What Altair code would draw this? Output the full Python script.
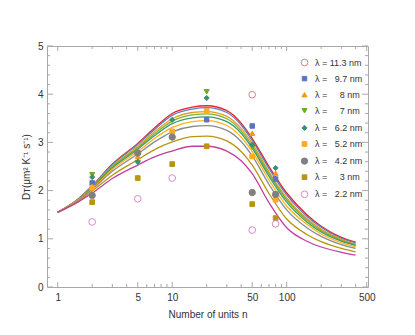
import altair as alt
import pandas as pd

labels = ["λ = 11.3 nm", "λ = \u20079.7 nm", "λ = \u2007\u20078 nm", "λ = \u2007\u20077 nm",
          "λ = \u20076.2 nm", "λ = \u20075.2 nm", "λ = \u20074.2 nm", "λ = \u2007\u20073 nm",
          "λ = \u20072.2 nm"]
curve_keys = ["11.3", "9.7", "8", "7", "6.2", "5.2", "4.2", "3", "2.2"]

n_grid = [1, 1.5, 2, 3, 5, 7, 10, 15, 20, 30, 40, 50, 70, 100, 150, 200, 300, 400]
c_113 = [1.55, 1.82, 2.10, 2.55, 2.98, 3.30, 3.60, 3.73, 3.76, 3.66, 3.40, 3.08, 2.50, 1.95, 1.50, 1.26, 1.03, 0.93]
c_97 = [1.55, 1.82, 2.09, 2.54, 2.96, 3.27, 3.56, 3.69, 3.72, 3.62, 3.36, 3.04, 2.46, 1.91, 1.47, 1.24, 1.01, 0.92]
c_8 = [1.55, 1.81, 2.08, 2.51, 2.92, 3.22, 3.49, 3.62, 3.64, 3.54, 3.29, 2.98, 2.39, 1.85, 1.42, 1.20, 0.99, 0.89]
c_7 = [1.55, 1.81, 2.07, 2.49, 2.89, 3.18, 3.44, 3.57, 3.59, 3.49, 3.24, 2.93, 2.35, 1.81, 1.39, 1.17, 0.97, 0.88]
c_62 = [1.55, 1.80, 2.06, 2.47, 2.86, 3.14, 3.39, 3.51, 3.53, 3.43, 3.19, 2.88, 2.30, 1.76, 1.35, 1.14, 0.95, 0.86]
c_52 = [1.55, 1.80, 2.04, 2.44, 2.81, 3.08, 3.31, 3.43, 3.45, 3.35, 3.11, 2.81, 2.22, 1.68, 1.30, 1.10, 0.92, 0.83]
c_42 = [1.55, 1.79, 2.03, 2.40, 2.76, 3.01, 3.22, 3.33, 3.35, 3.25, 3.02, 2.72, 2.13, 1.60, 1.23, 1.05, 0.88, 0.80]
c_3 = [1.55, 1.77, 1.99, 2.32, 2.64, 2.85, 3.01, 3.12, 3.13, 3.03, 2.81, 2.53, 1.94, 1.41, 1.09, 0.94, 0.80, 0.73]
c_22 = [1.55, 1.76, 1.95, 2.25, 2.53, 2.70, 2.82, 2.92, 2.92, 2.82, 2.62, 2.35, 1.75, 1.23, 0.95, 0.83, 0.72, 0.66]
curves = [c_113, c_97, c_8, c_7, c_62, c_52, c_42, c_3, c_22]

pt_series = [0, 1, 1, 1, 1, 2, 2, 2, 2, 2, 3, 3, 3, 3, 4, 4, 4, 4, 4, 4,
             5, 5, 5, 5, 5, 6, 6, 6, 6, 6, 7, 7, 7, 7, 7, 7, 8, 8, 8, 8, 8]
pt_n = [50, 2, 20, 50, 80, 2, 5, 10, 50, 80, 2, 5, 20, 50, 2, 5, 10, 20, 50, 80,
        2, 10, 20, 50, 80, 2, 5, 10, 50, 80, 2, 5, 10, 20, 50, 80, 2, 5, 10, 50, 80]
pt_D = [3.99, 2.16, 3.47, 3.34, 2.24, 2.09, 2.71, 3.23, 3.19, 2.36, 2.33, 2.58, 4.05, 2.90,
        2.28, 2.60, 3.47, 3.92, 2.95, 2.47, 2.06, 3.23, 3.65, 2.71, 1.81,
        1.90, 2.78, 3.11, 1.96, 1.92, 1.76, 2.26, 2.55, 2.92, 1.72, 1.43,
        1.35, 1.83, 2.26, 1.18, 1.31]

line_colors = ["#E8212B", "#5D7FC0", "#E39B2A", "#7FAF2C", "#3C9A6B", "#FFB31A", "#8C8C8C", "#B8960F", "#C23FA0"]
pt_stroke = ["#F07A80", "#5B73C4", "#F09A1A", "#6AAD23", "#3E8F6E", "#FFAA22", "#808080", "#B8960F", "#D98BC9"]
pt_fill = ["transparent", "#5B73C4", "#F09A1A", "#6AAD23", "#3E8F6E", "#FFAA22", "#808080", "#B8960F", "transparent"]
pt_shape = ["circle", "square", "triangle-up", "triangle-down", "diamond", "square", "circle", "square", "circle"]
pt_size = [45, 20, 26, 26, 26, 22, 40, 22, 45]

x_major = [1, 5, 10, 50, 100, 500]
x_minor = [2, 3, 4, 6, 7, 8, 9, 20, 30, 40, 60, 70, 80, 90, 200, 300, 400]
y_major = [0, 1, 2, 3, 4, 5]
y_minor = [0.2, 0.4, 0.6, 0.8, 1.2, 1.4, 1.6, 1.8, 2.2, 2.4, 2.6, 2.8,
           3.2, 3.4, 3.6, 3.8, 4.2, 4.4, 4.6, 4.8]

W, H = 321, 241
frame = "#a8a8a8"

rows = []
for key, vals in zip(curve_keys, curves):
    for n, d in zip(n_grid, vals):
        rows.append({"n": n, "D": d, "curve": key})
curve_df = pd.DataFrame(rows)
pt_df = pd.DataFrame({"n": pt_n, "D": pt_D, "lam": [labels[i] for i in pt_series]})

xscale = alt.Scale(type="log", domain=[0.806, 513], nice=False)
yscale = alt.Scale(domain=[0, 5], nice=False, zero=False)

xaxis = alt.Axis(values=x_major, format="d", ticks=False, domain=False, grid=False,
                 labelPadding=5, title="Number of units n", titlePadding=7)
yaxis = alt.Axis(values=y_major, format="d", ticks=False, domain=False, grid=False,
                 labelPadding=4, title="D\u1D1B(μm² K⁻¹ s⁻¹)", titlePadding=6)

lines = alt.Chart(curve_df).mark_line(interpolate="monotone", strokeWidth=1.3).encode(
    x=alt.X("n:Q", scale=xscale, axis=xaxis),
    y=alt.Y("D:Q", scale=yscale, axis=yaxis),
    color=alt.Color("curve:N", scale=alt.Scale(domain=curve_keys, range=line_colors), legend=None),
)

leg = alt.Legend(title=None, orient="none", legendX=253, legendY=12)
points = alt.Chart(pt_df).mark_point(opacity=1, strokeWidth=1).encode(
    x="n:Q",
    y="D:Q",
    shape=alt.Shape("lam:N", scale=alt.Scale(domain=labels, range=pt_shape), legend=leg),
    stroke=alt.Stroke("lam:N", scale=alt.Scale(domain=labels, range=pt_stroke), legend=leg),
    fill=alt.Fill("lam:N", scale=alt.Scale(domain=labels, range=pt_fill), legend=leg),
    size=alt.Size("lam:N", scale=alt.Scale(type="ordinal", domain=labels, range=pt_size), legend=leg),
)

def xt(vals, length, top):
    df = pd.DataFrame({"n": vals})
    if top:
        return alt.Chart(df).mark_rule(color=frame, strokeWidth=1).encode(
            x="n:Q", y=alt.value(0), y2=alt.value(length))
    return alt.Chart(df).mark_rule(color=frame, strokeWidth=1).encode(
        x="n:Q", y=alt.value(H), y2=alt.value(H - length))

def yt(vals, length, right):
    df = pd.DataFrame({"D": vals})
    if right:
        return alt.Chart(df).mark_rule(color=frame, strokeWidth=1).encode(
            y="D:Q", x=alt.value(W), x2=alt.value(W - length))
    return alt.Chart(df).mark_rule(color=frame, strokeWidth=1).encode(
        y="D:Q", x=alt.value(0), x2=alt.value(length))

ticks = [xt(x_major, 5, False), xt(x_minor, 3, False), xt(x_major, 5, True), xt(x_minor, 3, True),
         yt(y_major, 6, False), yt(y_minor, 3, False), yt(y_major, 6, True), yt(y_minor, 3, True)]

chart = alt.layer(lines, *ticks, points).properties(
    width=W, height=H,
    padding={"left": 39, "top": 38, "right": 30, "bottom": 40},
    autosize=alt.AutoSizeParams(type="none"),
).configure_view(stroke=frame, strokeWidth=1).configure_axis(
    labelFont="Liberation Sans", labelFontSize=10, labelColor="#333",
    titleFont="Liberation Sans", titleFontSize=10, titleColor="#333", titleFontWeight="normal",
).configure_legend(
    labelFont="Liberation Sans", labelFontSize=9, labelColor="#333",
    rowPadding=6.1, labelOffset=6, symbolStrokeWidth=1, padding=0,
)

chart.save("out.html", embed_options={"renderer": "svg", "actions": False})
